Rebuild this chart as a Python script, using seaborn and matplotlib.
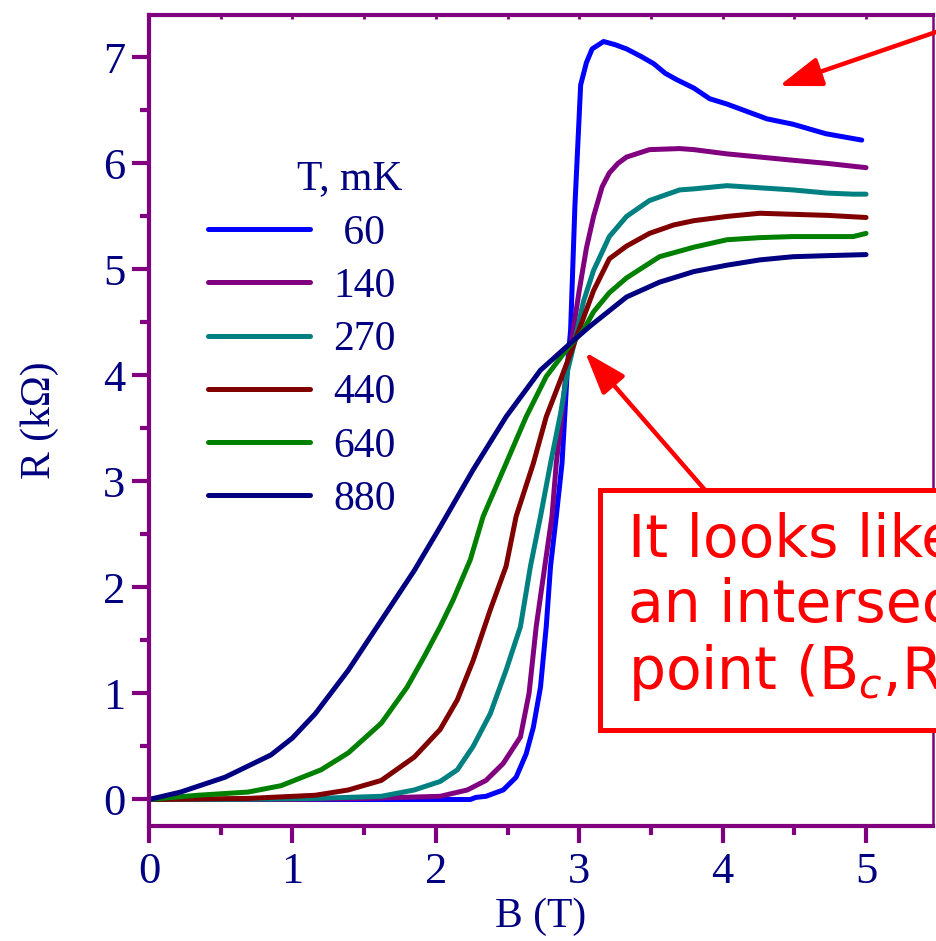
import numpy as np
import pandas as pd
import matplotlib
matplotlib.use("Agg")
import matplotlib.pyplot as plt
from matplotlib.patches import Rectangle
import seaborn as sns

# Sheet resistance R(B) isotherms, field B in tesla, R in kOhm
temps = ["60", "140", "270", "440", "640", "880"]
colors = ["#0000FF", "#800080", "#008080", "#800000", "#008000", "#000080"]

b_60 = [0, 1.0, 2.0, 2.24, 2.28, 2.35, 2.47, 2.56, 2.63, 2.68, 2.73, 2.77, 2.80,
        2.84, 2.88, 2.90, 2.92, 2.94, 2.97, 3.01, 3.05, 3.09, 3.17, 3.25, 3.33,
        3.43, 3.52, 3.60, 3.68, 3.80, 3.91, 4.03, 4.17, 4.31, 4.49, 4.72, 4.97]
r_60 = [0, 0, 0.0, 0.0, 0.02, 0.03, 0.09, 0.21, 0.43, 0.68, 1.06, 1.63, 2.2,
        2.67, 3.17, 3.64, 4.12, 4.43, 5.6, 6.74, 6.95, 7.08, 7.15, 7.12, 7.08,
        7.01, 6.94, 6.85, 6.79, 6.71, 6.61, 6.56, 6.49, 6.42, 6.37, 6.28, 6.22]

b_140 = [0, 1.0, 1.5, 2.03, 2.22, 2.35, 2.47, 2.59, 2.65, 2.70, 2.76, 2.81, 2.84,
         2.88, 2.91, 2.95, 3.00, 3.05, 3.10, 3.16, 3.21, 3.27, 3.33, 3.49, 3.70,
         3.80, 4.03, 4.26, 4.49, 4.73, 5.0]
r_140 = [0, 0.0, 0.01, 0.03, 0.09, 0.18, 0.34, 0.59, 1.0, 1.63, 2.2, 2.67, 3.17,
         3.64, 4.05, 4.36, 4.80, 5.2, 5.5, 5.78, 5.91, 6.0, 6.06, 6.13, 6.14,
         6.13, 6.09, 6.06, 6.03, 6.00, 5.96]

b_270 = [0, 0.5, 1.16, 1.62, 1.85, 2.03, 2.15, 2.26, 2.38, 2.49, 2.59, 2.66, 2.73,
         2.80, 2.87, 2.92, 2.97, 3.03, 3.10, 3.21, 3.33, 3.49, 3.70, 3.80, 4.03,
         4.26, 4.49, 4.73, 4.91, 5.0]
r_270 = [0, 0.0, 0.01, 0.03, 0.09, 0.17, 0.28, 0.50, 0.81, 1.22, 1.63, 2.2, 2.67,
         3.17, 3.64, 4.05, 4.33, 4.70, 4.99, 5.31, 5.50, 5.65, 5.75, 5.76, 5.79,
         5.77, 5.75, 5.72, 5.71, 5.71]

b_440 = [0, 0.69, 1.16, 1.39, 1.62, 1.85, 2.03, 2.15, 2.26, 2.38, 2.49, 2.56, 2.68,
         2.77, 2.87, 2.94, 2.98, 3.10, 3.21, 3.33, 3.49, 3.66, 3.80, 4.03, 4.26,
         4.49, 4.73, 5.0]
r_440 = [0, 0.01, 0.04, 0.09, 0.18, 0.40, 0.66, 0.94, 1.31, 1.79, 2.2, 2.67, 3.17,
         3.61, 3.96, 4.21, 4.36, 4.80, 5.10, 5.22, 5.34, 5.42, 5.46, 5.50, 5.53,
         5.52, 5.51, 5.49]

b_640 = [0, 0.34, 0.69, 0.92, 1.20, 1.39, 1.62, 1.80, 1.92, 2.03, 2.12, 2.24, 2.33,
         2.49, 2.63, 2.77, 2.91, 3.03, 3.10, 3.21, 3.33, 3.56, 3.80, 4.03, 4.26,
         4.49, 4.73, 4.91, 5.0]
r_640 = [0, 0.04, 0.07, 0.13, 0.28, 0.44, 0.72, 1.06, 1.35, 1.63, 1.88, 2.26, 2.67,
         3.17, 3.61, 3.99, 4.24, 4.43, 4.60, 4.78, 4.92, 5.12, 5.21, 5.28, 5.30,
         5.31, 5.31, 5.31, 5.34]

b_880 = [0, 0.22, 0.53, 0.85, 1.0, 1.16, 1.39, 1.62, 1.85, 2.03, 2.26, 2.49, 2.73,
         2.96, 3.08, 3.33, 3.56, 3.80, 4.03, 4.26, 4.49, 4.73, 5.0]
r_880 = [0, 0.07, 0.21, 0.42, 0.58, 0.81, 1.22, 1.69, 2.16, 2.57, 3.11, 3.61, 4.05,
         4.33, 4.47, 4.74, 4.88, 4.98, 5.04, 5.09, 5.12, 5.13, 5.14]

x_ticks = [0, 1, 2, 3, 4, 5]
y_ticks = [0, 1, 2, 3, 4, 5, 6, 7]

fields = [b_60, b_140, b_270, b_440, b_640, b_880]
resist = [r_60, r_140, r_270, r_440, r_640, r_880]

frames = []
for t, b, r in zip(temps, fields, resist):
    frames.append(pd.DataFrame({"B": b, "R": r, "T": t}))
data = pd.concat(frames, ignore_index=True)

sns.set_theme(style="ticks")
plt.rcParams["font.family"] = ["Liberation Serif", "DejaVu Serif"]
plt.rcParams["mathtext.fontset"] = "custom"

NAVY = "#000080"
PURPLE = "#800080"
RED = "#FF0000"

W, H = 936, 941
fig = plt.figure(figsize=(W / 100, H / 100), dpi=100)
ax = fig.add_axes([149 / W, 1 - 826 / H, (933 - 149) / W, (826 - 15) / H])

handles = []
for t, c in zip(temps, colors):
    sub = data[data["T"] == t]
    sns.lineplot(data=sub, x="B", y="R", ax=ax, color=c, lw=3.6,
                 sort=False, estimator=None, legend=False)
    line = ax.lines[-1]
    line.set_solid_capstyle("round")
    line.set_solid_joinstyle("round")
    handles.append(line)

ax.set_xlim(0, 5.467)
ax.set_ylim(-0.25, 7.40)
ax.set_xticks(x_ticks)
ax.set_yticks(y_ticks)
ax.set_xticks(np.arange(0.5, 5.5, 1.0), minor=True)
ax.set_yticks(np.arange(0.5, 7.5, 1.0), minor=True)

for side in ["left", "bottom", "top"]:
    ax.spines[side].set_linewidth(3.0)
    ax.spines[side].set_color(PURPLE)
ax.spines["right"].set_linewidth(1.8)
ax.spines["right"].set_color(PURPLE)

ax.tick_params(axis="both", which="major", direction="out", length=12, width=3,
               color=PURPLE, labelcolor=NAVY, labelsize=32)
ax.tick_params(axis="both", which="minor", direction="out", length=6.5, width=3,
               color=PURPLE)
ax.tick_params(axis="x", which="major", pad=7)
ax.tick_params(axis="y", which="major", pad=5)

# small inward ticks along the top edge
top = ax.secondary_xaxis("top")
top.set_xticks(np.arange(0.5, 5.5, 0.5))
top.tick_params(direction="in", length=3, width=2, color=PURPLE, labeltop=False)
top.spines["top"].set_visible(False)

ax.set_xlabel("B (T)", fontsize=30, color=NAVY, labelpad=4)
ax.set_ylabel("R (k\u03a9)", fontsize=30, color=NAVY, labelpad=32)

leg = ax.legend(handles, [" 60", "140", "270", "440", "640", "880"],
                loc="upper left", bbox_to_anchor=((208 - 149) / 784, (826 - 214) / 811),
                frameon=False, fontsize=30, handlelength=2.45, handletextpad=0.55,
                labelspacing=0.355, borderpad=0, borderaxespad=0)
for txt in leg.get_texts():
    txt.set_color(NAVY)
for lh in leg.get_lines():
    lh.set_linewidth(3.6)

ax.text((297 - 149) / 784, (826 - 160) / 811, "T, mK", transform=ax.transAxes,
        ha="left", va="top", fontsize=30, color=NAVY)

# callout box with comment on the crossing point
fig.patches.append(Rectangle((600, H - 730), 420, 240, transform=None,
                             fill=True, facecolor="white", edgecolor=RED,
                             linewidth=3.6, zorder=5))
fig.text(628, H - 512, "It looks like\nan intersection\npoint (B$_c$,R$_c$)!",
         transform=None, ha="left", va="top", fontsize=42, color=RED,
         family="DejaVu Sans", linespacing=1.17, zorder=6)

ax.annotate("", xy=(585, H - 352), xycoords="figure pixels",
            xytext=(705, H - 490), textcoords="figure pixels",
            arrowprops=dict(arrowstyle="-|>,head_length=1.3,head_width=0.45",
                            color=RED, lw=3.2, mutation_scale=20,
                            shrinkA=0, shrinkB=0),
            annotation_clip=False, zorder=7)
ax.annotate("", xy=(779, H - 86), xycoords="figure pixels",
            xytext=(1000, H - 10), textcoords="figure pixels",
            arrowprops=dict(arrowstyle="-|>,head_length=1.3,head_width=0.45",
                            color=RED, lw=3.2, mutation_scale=20,
                            shrinkA=0, shrinkB=0),
            annotation_clip=False, zorder=7)

fig.savefig("out.png", dpi=100, facecolor="white")
